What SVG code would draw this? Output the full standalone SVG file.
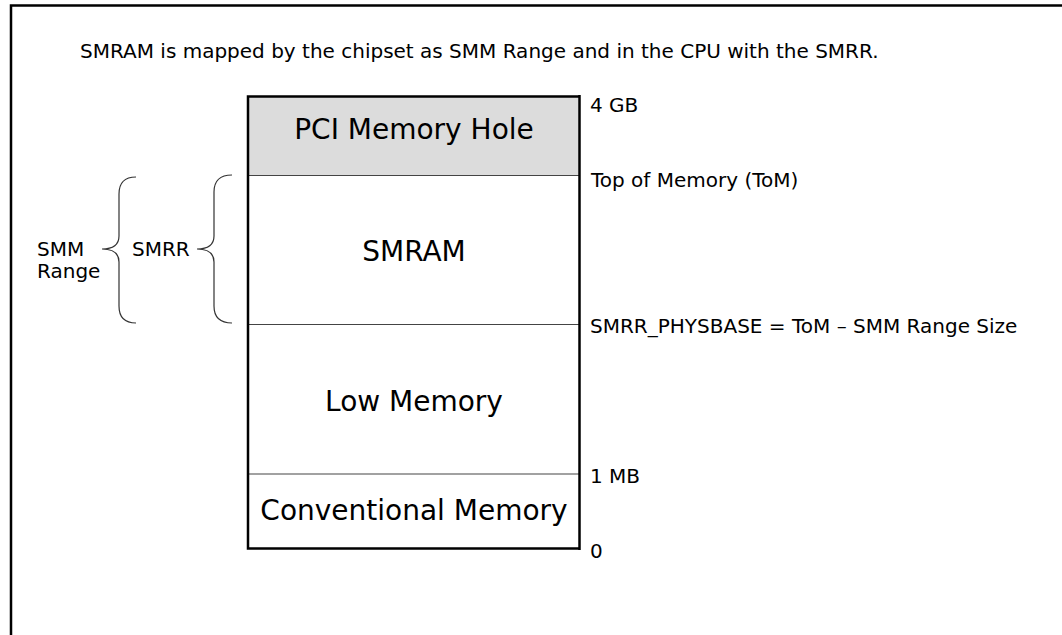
<svg xmlns="http://www.w3.org/2000/svg" width="1062" height="635" viewBox="0 0 1062 635">
<style>
text{font-family:"DejaVu Sans",Verdana,sans-serif;fill:#000}
.s{font-size:20px}
.b{font-size:28px;text-anchor:middle}
.div{stroke:#444;stroke-width:1.2}
.brace{fill:none;stroke:#333;stroke-width:1.2}
</style>
<rect width="1062" height="635" fill="#fff"/>
<path d="M11,636 V5.5 H1062" fill="none" stroke="#000" stroke-width="2.5"/>
<text class="s" x="80" y="58">SMRAM is mapped by the chipset as SMM Range and in the CPU with the SMRR.</text>
<g id="memory-map">
<g id="pci-hole">
<rect x="248" y="96.5" width="331" height="79" fill="#dcdcdc"/>
<text class="b" x="414" y="138.5">PCI Memory Hole</text>
</g>
<g id="smram"><text class="b" x="414" y="261">SMRAM</text></g>
<g id="low-memory"><text class="b" x="414" y="411">Low Memory</text></g>
<g id="conventional-memory"><text class="b" x="414" y="520">Conventional Memory</text></g>
<line class="div" x1="248" y1="175.5" x2="580" y2="175.5"/>
<line class="div" x1="248" y1="324.5" x2="580" y2="324.5"/>
<line class="div" x1="248" y1="474" x2="580" y2="474"/>
<path d="M579,96.5 H248 V548.5 H579.5" fill="none" stroke="#000" stroke-width="2.5"/>
<line x1="579.5" y1="95" x2="579.5" y2="550" stroke="#000" stroke-width="2.5"/>
</g>
<g id="labels">
<text class="s" x="590" y="112">4 GB</text>
<text class="s" x="591" y="187">Top of Memory (ToM)</text>
<text class="s" x="590" y="333">SMRR_PHYSBASE = ToM – SMM Range Size</text>
<text class="s" x="590" y="483">1 MB</text>
<text class="s" x="590" y="558">0</text>
</g>
<g id="connectors">
<path class="brace" d="M136,177 Q119,177 119,194 V236 Q119,249 102,249 Q119,249 119,262 V306 Q119,323 136,323"/>
<path class="brace" d="M232,175 Q214,175 214,192 V236 Q214,249 197,249 Q214,249 214,262 V306 Q214,323 232,323"/>
</g>
<g id="smm-range"><text class="s" x="37" y="256">SMM</text><text class="s" x="37" y="278">Range</text></g>
<g id="smrr"><text class="s" x="132" y="256">SMRR</text></g>
</svg>
